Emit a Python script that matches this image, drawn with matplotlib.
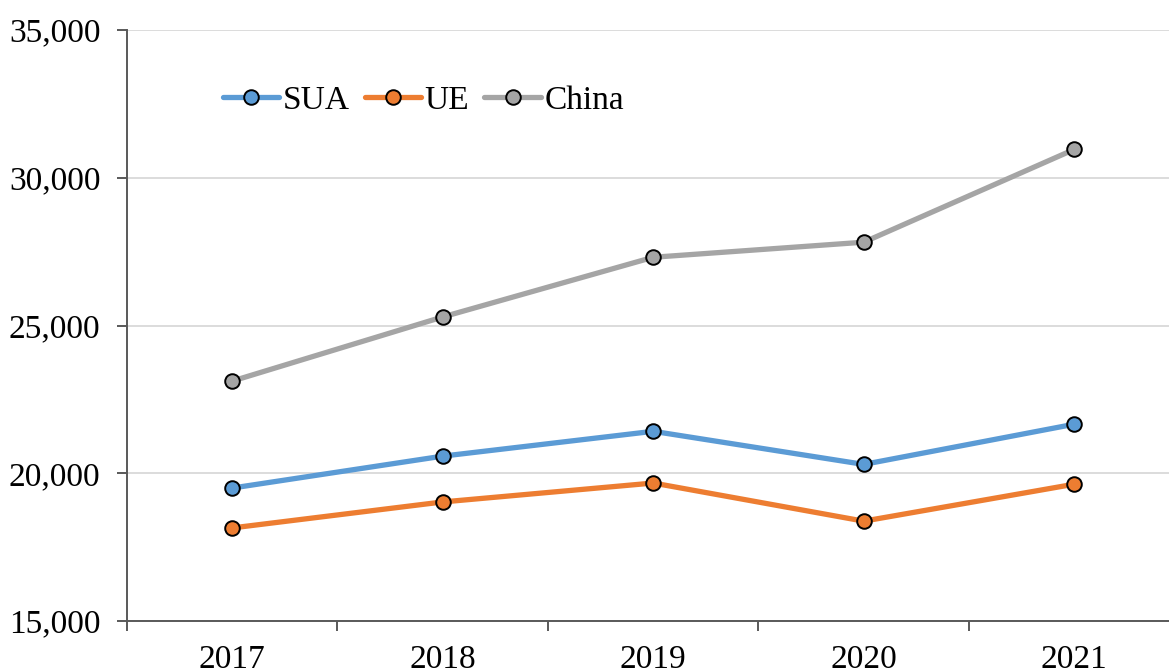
import numpy as np
import matplotlib.pyplot as plt
from matplotlib.ticker import FuncFormatter, FixedLocator

# --- data ---
years = ['2017', '2018', '2019', '2020', '2021']
sua = [19500, 20580, 21420, 20300, 21660]
ue = [18150, 19030, 19670, 18380, 19630]
china = [23120, 25290, 27310, 27820, 30960]

plt.rcParams['font.family'] = ['Liberation Serif', 'DejaVu Serif']

fig = plt.figure(figsize=(11.69, 6.70), dpi=100)
ax = fig.add_axes([0.1086, 0.0731, 0.9004, 0.8821])

x = np.arange(len(years))
series = [('SUA', sua, '#5B9BD5'), ('UE', ue, '#ED7D31'), ('China', china, '#A5A5A5')]
for name, vals, col in series:
    ax.plot(x, vals, color=col, linewidth=3.8, marker='o', markersize=10.5,
            markerfacecolor=col, markeredgecolor='black', markeredgewidth=1.4,
            label=name, solid_capstyle='round', zorder=3)

ax.set_xlim(-0.5, len(years) - 0.5)
ax.set_ylim(15000, 35000)
ax.set_yticks(np.arange(15000, 35001, 5000))
ax.yaxis.set_major_formatter(FuncFormatter(lambda v, p: f'{int(v):,}'))

# category labels centred, ticks on the category boundaries
ax.set_xticks(x)
ax.set_xticklabels(years)
ax.xaxis.set_minor_locator(FixedLocator(np.arange(-0.5, len(years), 1.0)))
ax.tick_params(axis='x', which='major', length=0, pad=17, labelsize=24)
ax.tick_params(axis='x', which='minor', length=7, width=1.4, color='#595959', direction='out')
ax.tick_params(axis='y', length=7, width=1.4, color='#595959', pad=12, labelsize=24)

ax.grid(axis='y', color='#D9D9D9', linewidth=1.3, zorder=0)
ax.set_axisbelow(True)
for side in ['top', 'right']:
    ax.spines[side].set_visible(False)
for side in ['left', 'bottom']:
    ax.spines[side].set_color('#595959')
    ax.spines[side].set_linewidth(1.4)

ax.legend(loc='center left', bbox_to_anchor=(0.091, 0.881), ncol=3, frameon=False,
          fontsize=24, handlelength=1.7, handletextpad=0.1, columnspacing=0.45,
          borderpad=0, borderaxespad=0)

fig.savefig('out.png', dpi=100)
